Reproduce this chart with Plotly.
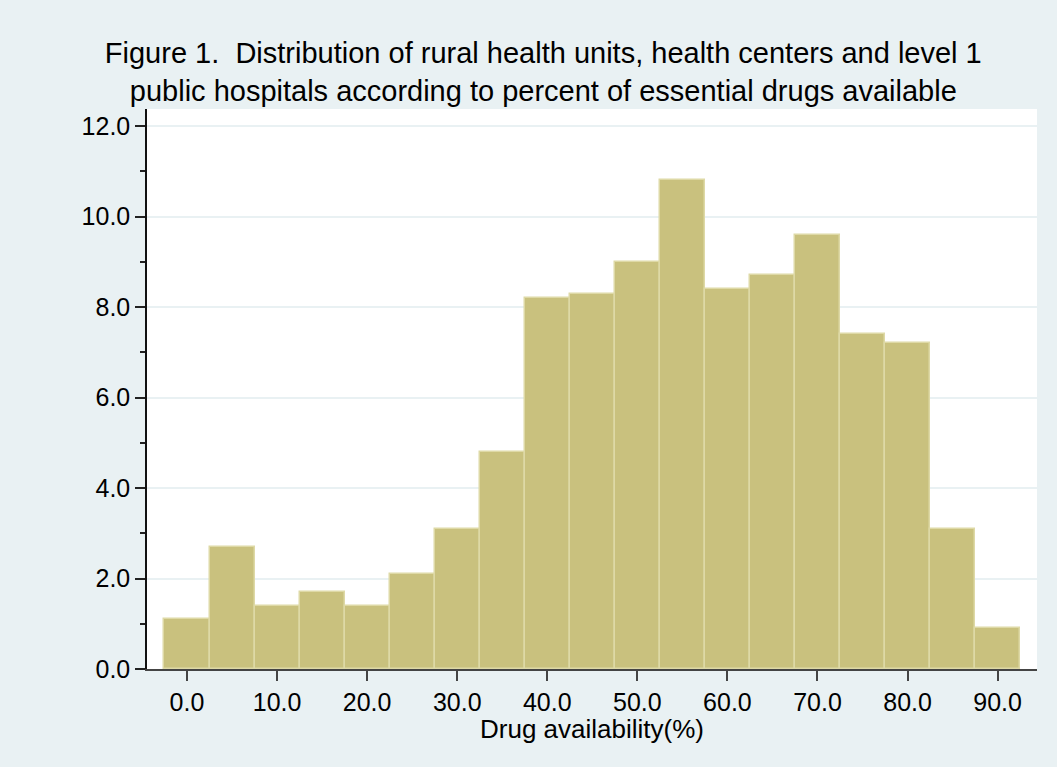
import plotly.graph_objects as go

# Histogram bins (centres, width 5) and percent of facilities in each bin
bin_centers = [0, 5, 10, 15, 20, 25, 30, 35, 40, 45, 50, 55, 60, 65, 70, 75, 80, 85, 90]
percent = [1.1, 2.7, 1.4, 1.7, 1.4, 2.1, 3.1, 4.8, 8.2, 8.3, 9.0, 10.8, 8.4, 8.7, 9.6, 7.4, 7.2, 3.1, 0.9]
bin_width = 5

x_ticks = [0, 10, 20, 30, 40, 50, 60, 70, 80, 90]
x_tick_labels = ["0.0", "10.0", "20.0", "30.0", "40.0", "50.0", "60.0", "70.0", "80.0", "90.0"]
y_ticks = [0, 2, 4, 6, 8, 10, 12]
y_tick_labels = ["0.0", "2.0", "4.0", "6.0", "8.0", "10.0", "12.0"]

title_text = ("Figure 1.  Distribution of rural health units, health centers and level 1<br>"
              "public hospitals according to percent of essential drugs available")
x_title = "Drug availability(%)"

BG = "#E9F1F3"
FONT = "Liberation Sans, Arial, sans-serif"

fig = go.Figure(
    go.Bar(
        x=bin_centers,
        y=percent,
        width=[bin_width] * len(bin_centers),
        marker=dict(color="#C9C17E", line=dict(color="#DED9A6", width=1.5)),
        hoverinfo="x+y",
    )
)

fig.update_layout(
    width=1057,
    height=767,
    paper_bgcolor=BG,
    plot_bgcolor="white",
    margin=dict(l=147, r=20, t=109, b=98),
    showlegend=False,
    bargap=0,
    font=dict(family=FONT, color="black"),
    title=dict(
        text=title_text,
        x=0.514,
        xanchor="center",
        y=0.918,
        yanchor="top",
        font=dict(family=FONT, size=29, color="black"),
    ),
    annotations=[
        dict(
            text=x_title,
            xref="paper", yref="paper",
            x=0.5, y=-0.077,
            xanchor="center", yanchor="top",
            showarrow=False,
            font=dict(family=FONT, size=26, color="black"),
        )
    ],
)

fig.update_xaxes(
    range=[-4.44, 94.37],
    tickmode="array",
    tickvals=x_ticks,
    ticktext=x_tick_labels,
    ticks="outside",
    ticklen=10,
    tickwidth=1.5,
    tickcolor="#444444",
    tickfont=dict(size=25),
    showline=True,
    linecolor="#444444",
    linewidth=1.5,
    showgrid=False,
    zeroline=False,
)

fig.update_yaxes(
    range=[0, 12.38],
    tickmode="array",
    tickvals=y_ticks,
    ticktext=y_tick_labels,
    ticks="outside",
    ticklen=10,
    tickwidth=1.5,
    tickcolor="#222222",
    tickfont=dict(size=25),
    showline=True,
    linecolor="#111111",
    linewidth=1.5,
    showgrid=True,
    gridcolor=BG,
    gridwidth=2,
    zeroline=False,
    minor=dict(tickvals=[1, 3, 5, 7, 9, 11], ticks="outside", ticklen=5,
               tickcolor="#222222", tickwidth=1.5, showgrid=False),
)

fig.write_html("out.html")
